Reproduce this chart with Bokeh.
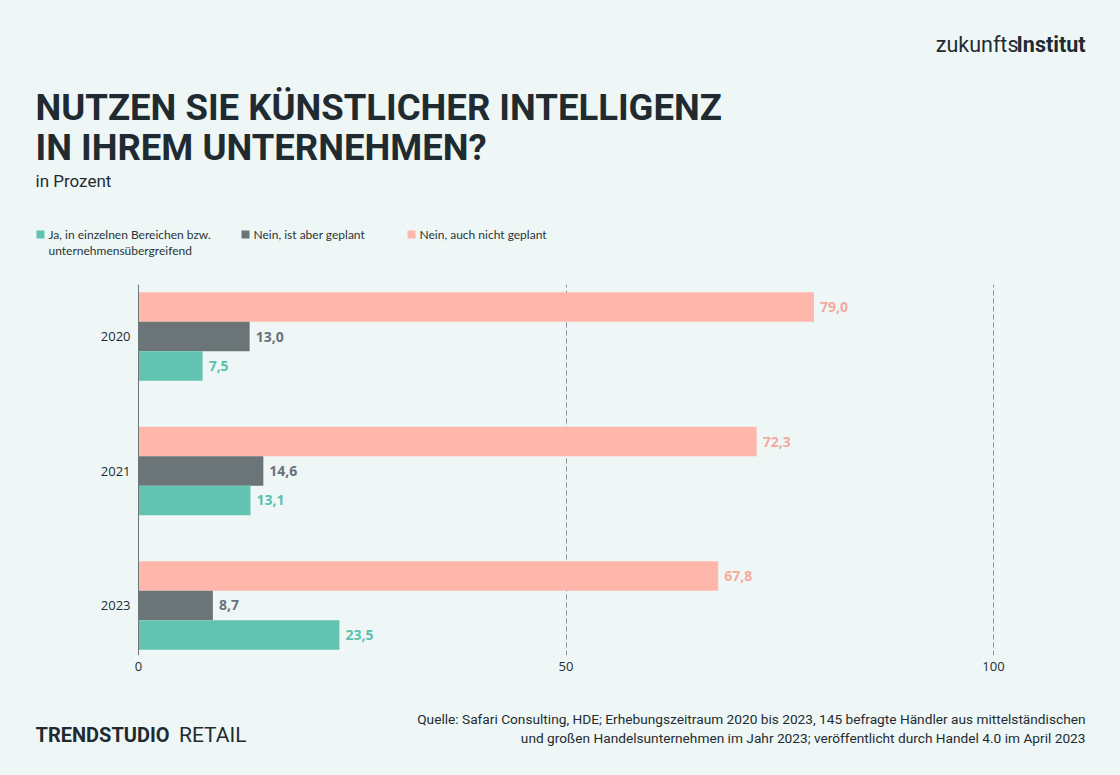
from bokeh.plotting import figure
from bokeh.layouts import column
from bokeh.models import Range1d, ColumnDataSource, FixedTicker, Span
from bokeh.core.properties import value
from bokeh.embed import file_html
from bokeh.resources import INLINE

# ---------------- data ----------------
years = ["2020", "2021", "2023"]
ja_values = [7.5, 13.1, 23.5]
geplant_values = [13.0, 14.6, 8.7]
nicht_values = [79.0, 72.3, 67.8]
series_names = ["Ja, in einzelnen Bereichen bzw.\nunternehmensübergreifend",
                "Nein, ist aber geplant",
                "Nein, auch nicht geplant"]
x_ticks = [0, 50, 100]

title_lines = ["NUTZEN SIE KÜNSTLICHER INTELLIGENZ", "IN IHREM UNTERNEHMEN?"]
subtitle = "in Prozent"
source_lines = ["Quelle: Safari Consulting, HDE; Erhebungszeitraum 2020 bis 2023, 145 befragte Händler aus mittelständischen",
                "und großen Handelsunternehmen im Jahr 2023; veröffentlicht durch Handel 4.0 im April 2023"]

# ---------------- style ----------------
W, H = 1120, 775
FL, FT, FH = 138, 284, 371
CHART_BOTTOM = 690
PX_PER_UNIT = 8.55
BG = "#eef7f6"
DARK = "#1f2b31"
C_JA, C_GEP, C_NICHT = "#63c3b1", "#6b7578", "#ffb7ab"
L_JA, L_GEP, L_NICHT = "#5cbfad", "#69727a", "#f6a99d"
BAR_H = 0.219

n = len(years)
base = [n - 1 - i for i in range(n)]


def fmt(v):
    return f"{v:.1f}".replace(".", ",")


def canvas_fig(y0, y1):
    f = figure(width=W, height=y1 - y0, output_backend="svg", toolbar_location=None,
               x_range=Range1d(0, W), y_range=Range1d(y1, y0),
               x_axis_type=None, y_axis_type=None, min_border=0,
               min_border_left=0, min_border_right=0, min_border_top=0, min_border_bottom=0)
    f.background_fill_color = BG
    f.border_fill_color = BG
    f.outline_line_color = None
    f.xgrid.visible = False
    f.ygrid.visible = False
    return f


def txt(f, text, cx, cy, size, font="Roboto", style="normal", color=DARK, align="left"):
    f.text(x=[cx], y=[cy], text=[text], text_font=value(font), text_font_size=value(f"{size}px"),
           text_font_style=value(style), text_color=color, text_align=value(align),
           text_baseline=value("middle"))


# ---------------- header ----------------
head = canvas_fig(0, FT)
txt(head, "zukunfts", 1018, 44, 21.5, align="right")
txt(head, "Institut", 1085, 44, 21.5, style="bold", align="right")
txt(head, title_lines[0], 35, 107, 36.5, style="bold")
txt(head, title_lines[1], 35, 146.5, 36.5, style="bold")
txt(head, subtitle, 35, 180.5, 17)

legend_x = [36, 241, 407]
legend_cols = [C_JA, C_GEP, C_NICHT]
for lx, name, col in zip(legend_x, series_names, legend_cols):
    head.quad(left=[lx], right=[lx + 8], top=[230], bottom=[238], fill_color=col, line_color=None)
    for k, line in enumerate(name.split("\n")):
        txt(head, line, lx + 12, 234 + 16 * k, 12, font="Lato", color="#2a3438")

# ---------------- chart ----------------
p = figure(width=W, height=CHART_BOTTOM - FT, output_backend="svg", toolbar_location=None,
           x_range=Range1d(-FL / PX_PER_UNIT, (W - FL) / PX_PER_UNIT),
           y_range=Range1d(-0.372, 2.387), y_axis_type=None, min_border=0,
           min_border_left=0, min_border_right=0,
           min_border_top=0, min_border_bottom=CHART_BOTTOM - FT - FH)
p.background_fill_color = BG
p.border_fill_color = BG
p.outline_line_color = None

p.xgrid.ticker = FixedTicker(ticks=x_ticks[1:])
p.xgrid.grid_line_color = "#8a9195"
p.xgrid.grid_line_dash = "5 3"
p.xgrid.grid_line_width = 1
p.ygrid.visible = False

p.add_layout(Span(location=0, dimension="height", line_color="#6e7679", line_width=1))

series = [
    (nicht_values, +BAR_H, C_NICHT, L_NICHT),
    (geplant_values, 0.0, C_GEP, L_GEP),
    (ja_values, -BAR_H, C_JA, L_JA),
]
for vals, off, col, lcol in series:
    src = ColumnDataSource(dict(y=[b + off for b in base], v=vals, lab=[fmt(v) for v in vals]))
    p.hbar(y="y", left=0, right="v", height=BAR_H, source=src, fill_color=col, line_color=None)
    p.text(x="v", y="y", text="lab", source=src, x_offset=6, text_baseline="middle",
           text_font=value("Open Sans"), text_font_style="bold", text_font_size="14px",
           text_color=lcol)

# category labels of the year axis
ysrc = ColumnDataSource(dict(x=[0] * n, y=base, t=years))
p.text(x="x", y="y", text="t", source=ysrc, x_offset=-8, text_align="right", text_baseline="middle",
       text_font=value("Open Sans"), text_font_size="13px", text_color=DARK)

p.xaxis.ticker = FixedTicker(ticks=x_ticks)
p.xaxis.axis_line_color = None
p.xaxis.major_tick_line_color = None
p.xaxis.minor_tick_line_color = None
p.xaxis.major_tick_out = 0
p.xaxis.major_label_standoff = 6
p.xaxis.major_label_text_font = "Open Sans"
p.xaxis.major_label_text_font_size = "13px"
p.xaxis.major_label_text_color = DARK

# ---------------- footer ----------------
foot = canvas_fig(CHART_BOTTOM, H)
txt(foot, "TRENDSTUDIO", 35, 734, 20, style="bold")
txt(foot, "RETAIL", 246, 734, 21, align="right")
txt(foot, source_lines[0], 1085, 718, 13.7, align="right")
txt(foot, source_lines[1], 1085, 737, 13.7, align="right")

layout = column(head, p, foot, spacing=0)
html = file_html(layout, INLINE)
html = html.replace("<head>", "<head><style>html,body{margin:0;padding:0;background:%s}</style>" % BG, 1)
open("out.html", "w").write(html)
